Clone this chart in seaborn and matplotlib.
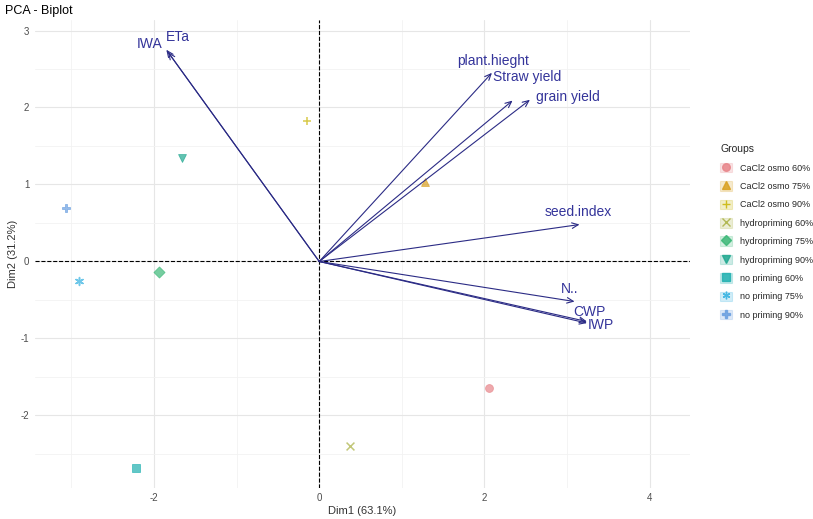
import matplotlib
matplotlib.use("Agg")
import matplotlib.pyplot as plt
import seaborn as sns
import pandas as pd
from matplotlib.lines import Line2D
from matplotlib.patches import Patch
from matplotlib.legend_handler import HandlerTuple

# Individuals (group scores on Dim1 / Dim2)
groups = ["CaCl2 osmo 60%", "CaCl2 osmo 75%", "CaCl2 osmo 90%",
          "hydropriming 60%", "hydropriming 75%", "hydropriming 90%",
          "no priming 60%", "no priming 75%", "no priming 90%"]
dim1 = [2.06, 1.28, -0.15, 0.37, -1.94, -1.66, -2.22, -2.91, -3.06]
dim2 = [-1.64, 1.03, 1.82, -2.40, -0.13, 1.34, -2.68, -0.25, 0.70]

# Variables (loadings, drawn as arrows)
variables = ["IWA", "ETa", "plant.hieght", "Straw yield", "grain yield",
             "seed.index", "N..", "CWP", "IWP"]
var_dim1 = [-1.85, -1.83, 2.09, 2.34, 2.55, 3.15, 3.09, 3.24, 3.24]
var_dim2 = [2.75, 2.72, 2.45, 2.09, 2.10, 0.48, -0.52, -0.78, -0.80]

# label placement relative to arrow tip
label_offsets = {"IWA": (-0.20, 0.07), "ETa": (0.12, 0.20), "plant.hieght": (0.01, 0.15),
                 "Straw yield": (0.18, 0.31), "grain yield": (0.46, 0.04),
                 "seed.index": (-0.01, 0.16), "N..": (-0.06, 0.16),
                 "CWP": (0.03, 0.13), "IWP": (0.17, -0.03)}

colors = ["#E8858A", "#D9A020", "#C8B400", "#A8B040", "#3CB878",
          "#20A890", "#20B0B0", "#30B0E0", "#6A9FE0"]
markers = ["o", "^", "+", "x", "D", "v", "s", (6, 2, 0), "P"]

df = pd.DataFrame({"group": groups, "Dim1": dim1, "Dim2": dim2})

sns.set_style("whitegrid")
plt.rcParams["font.family"] = ["Liberation Sans", "DejaVu Sans"]
plt.rcParams["axes.unicode_minus"] = False

fig = plt.figure(figsize=(8.13, 5.19), dpi=100)
ax = fig.add_axes([0.043, 0.060, 0.806, 0.902])

for g, c, m in zip(groups, colors, markers):
    sub = df[df["group"] == g]
    sns.scatterplot(data=sub, x="Dim1", y="Dim2", color=c, marker=m, s=32,
                    alpha=0.7, linewidth=1.1 if m in ["+", "x", (6, 2, 0)] else 0.6,
                    edgecolor=c, ax=ax, legend=False)

ax.axhline(0, color="black", linestyle="--", linewidth=0.8, zorder=1)
ax.axvline(0, color="black", linestyle="--", linewidth=0.8, zorder=1)

arrow_col = "#2B2B85"
text_col = "#34349A"
for v, x, y in zip(variables, var_dim1, var_dim2):
    ax.annotate("", xy=(x, y), xytext=(0, 0),
                arrowprops=dict(arrowstyle="->,head_length=0.45,head_width=0.2",
                                color=arrow_col, lw=0.8, shrinkA=0, shrinkB=0))
    dx, dy = label_offsets[v]
    ax.text(x + dx, y + dy, v, color=text_col, fontsize=10, ha="center", va="center")

ax.set_xlim(-3.44, 4.49)
ax.set_ylim(-2.94, 3.14)
ax.set_xticks([-2, 0, 2, 4])
ax.set_yticks([-2, -1, 0, 1, 2, 3])
ax.set_xticks([-3, -1, 1, 3], minor=True)
ax.set_yticks([-2.5, -1.5, -0.5, 0.5, 1.5, 2.5], minor=True)
ax.grid(which="major", color="#E6E6E6", linewidth=0.8)
ax.grid(which="minor", color="#F2F2F2", linewidth=0.6)
for s in ax.spines.values():
    s.set_visible(False)
ax.tick_params(axis="both", which="major", labelsize=7, colors="#4D4D4D",
               length=2.5, width=0.6, pad=1.5)
ax.tick_params(which="minor", length=0)
ax.set_xlabel("Dim1 (63.1%)", fontsize=8, color="#333333", labelpad=2)
ax.set_ylabel("Dim2 (31.2%)", fontsize=8, color="#333333", labelpad=2)
fig.text(0.006, 0.978, "PCA - Biplot", fontsize=9, color="black", va="center", ha="left")

handles = []
for c, m in zip(colors, markers):
    bg = Patch(facecolor=c, edgecolor=c, alpha=0.22, linewidth=0.8)
    mk = Line2D([], [], marker=m, color=c, linestyle="", markersize=5.5,
                markeredgewidth=1.0, alpha=0.85)
    handles.append((bg, mk))
leg = fig.legend(handles, groups, title="Groups", loc="upper left",
                 bbox_to_anchor=(0.886, 0.722), frameon=False, fontsize=6.5,
                 title_fontsize=7.5,
                 handler_map={tuple: HandlerTuple(ndivide=1, pad=0)},
                 handlelength=1.25, handleheight=1.25, labelspacing=0.95,
                 handletextpad=0.95, borderaxespad=0, borderpad=0)
leg._legend_box.align = "left"

fig.savefig("out.png", dpi=100, facecolor="white")
